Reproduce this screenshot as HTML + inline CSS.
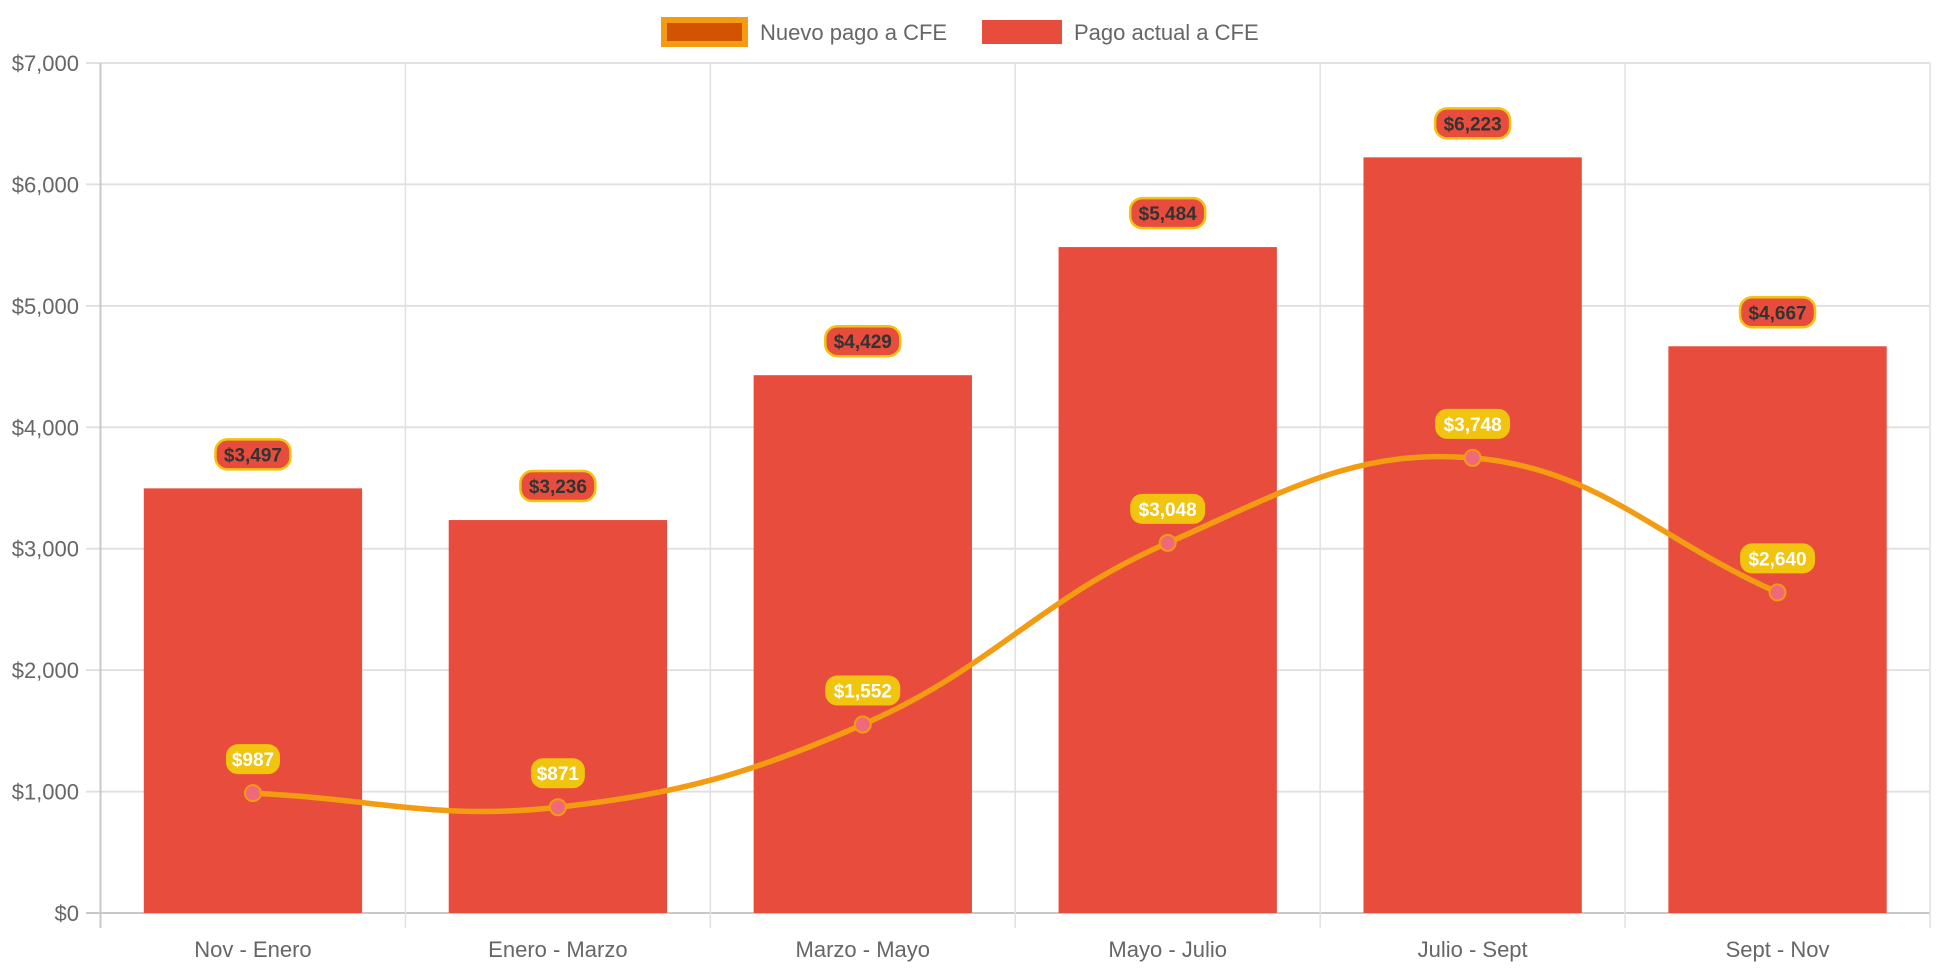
<!DOCTYPE html>
<html><head><meta charset="utf-8"><style>
html,body{margin:0;padding:0;background:#fff;}
svg{display:block;font-family:"Liberation Sans",Arial,sans-serif;}
</style></head><body>
<svg id="chart" width="1942" height="970" viewBox="0 0 1942 970" xmlns="http://www.w3.org/2000/svg">
<g>
  <g>
    <rect x="664" y="20" width="81" height="24" fill="#d35400" stroke="#f39c12" stroke-width="6"/>
    <text x="760" y="40" font-size="22" fill="#666">Nuevo pago a CFE</text>
  </g>
  <g>
    <rect x="982" y="20" width="80" height="24" fill="#e74c3c"/>
    <text x="1074" y="40" font-size="22" fill="#666">Pago actual a CFE</text>
  </g>
</g>
<g id="grid"></g>
<g id="bars"></g>
<g id="line"></g>
<g id="labels"></g>
</svg>
<script>
const categories = ["Nov - Enero","Enero - Marzo","Marzo - Mayo","Mayo - Julio","Julio - Sept","Sept - Nov"];
const actualValues = [3497,3236,4429,5484,6223,4667];
const nuevoValues = [987,871,1552,3048,3748,2640];
const yTicks = [0,1000,2000,3000,4000,5000,6000,7000];
const yTickLabels = ["$0","$1,000","$2,000","$3,000","$4,000","$5,000","$6,000","$7,000"];

const NS="http://www.w3.org/2000/svg";
const L=100.5,R=1930,T=63,B=913,yMax=7000;
const cw=(R-L)/categories.length;
function y(v){return B-(v/yMax)*(B-T);}
function xc(i){return L+cw*(i+0.5);}
function mk(tag,attrs,parent){const e=document.createElementNS(NS,tag);for(const k in attrs)e.setAttribute(k,attrs[k]);parent.appendChild(e);return e;}
function fmt(v){return "$"+v.toLocaleString("en-US");}
const grid=document.getElementById('grid'),bars=document.getElementById('bars'),line=document.getElementById('line'),labels=document.getElementById('labels');

yTicks.forEach((t,i)=>{
  const g=mk('line',{x1:86,x2:R,y1:y(t),y2:y(t),stroke:i===0?'#c8c8c8':'#e1e1e1','stroke-width':2},grid);
  
  
  const tx=mk('text',{x:79,y:y(t)+8,'text-anchor':'end','font-size':22,fill:'#666'},grid);
  tx.textContent=yTickLabels[i];
  
  
});
for(let i=0;i<=categories.length;i++){
  const x=L+cw*i;
  const g=mk('line',{x1:x,x2:x,y1:T,y2:928,stroke:i===0?'#c8c8c8':'#e1e1e1','stroke-width':i===0?2:1.5},grid);
  
  
}
categories.forEach((c,i)=>{
  const tx=mk('text',{x:xc(i),y:957,'text-anchor':'middle','font-size':22,fill:'#666'},grid);
  tx.textContent=c;
  
  
});

const bw=cw*0.716;
actualValues.forEach((v,i)=>{
  const r=mk('rect',{x:xc(i)-bw/2,y:y(v),width:bw,height:B-y(v),fill:'#e74c3c'},bars);
  
  
});

const pts=nuevoValues.map((v,i)=>[xc(i),y(v)]);
const tension=0.4;
let d="M"+pts[0][0]+","+pts[0][1];
const cps=pts.map((p,i)=>{
  const prev=pts[i-1]||p,next=pts[i+1]||p;
  const d01=Math.hypot(p[0]-prev[0],p[1]-prev[1]),d12=Math.hypot(next[0]-p[0],next[1]-p[1]);
  let fa=d01/(d01+d12)||0,fb=d12/(d01+d12)||0;
  fa*=tension;fb*=tension;
  return {prev:[p[0]-fa*(next[0]-prev[0]),p[1]-fa*(next[1]-prev[1])],next:[p[0]+fb*(next[0]-prev[0]),p[1]+fb*(next[1]-prev[1])]};
});
for(let i=1;i<pts.length;i++){
  d+=" C"+cps[i-1].next.join(",")+" "+cps[i].prev.join(",")+" "+pts[i].join(",");
}
const path=mk('path',{d:d,fill:'none',stroke:'#f39c12','stroke-width':5.5},line);


pts.forEach((p,i)=>{
  const c=mk('circle',{cx:p[0],cy:p[1],r:8,fill:'#f0697a',stroke:'#f39c12','stroke-width':2},line);
  
  
});

function badge(cx,cy,txt,fill,stroke,color,name){
  const g=mk('g',{},labels);
  
  
  const w=txt.length*10.5+12;
  mk('rect',{x:cx-w/2,y:cy-15,width:w,height:30,rx:12,fill:fill,stroke:stroke,'stroke-width':stroke==='none'?0:2.5},g);
  const t=mk('text',{x:cx,y:cy+7,'text-anchor':'middle','font-size':19,'font-weight':'bold',fill:color},g);
  t.textContent=txt;
}
actualValues.forEach((v,i)=>badge(xc(i),y(v)-34,fmt(v),'#e74c3c','#f1c40f','#333','bar-value-label'));
nuevoValues.forEach((v,i)=>badge(xc(i),y(v)-34,fmt(v),'#f1c40f','none','#fff','line-value-label'));
</script>
</body></html>
